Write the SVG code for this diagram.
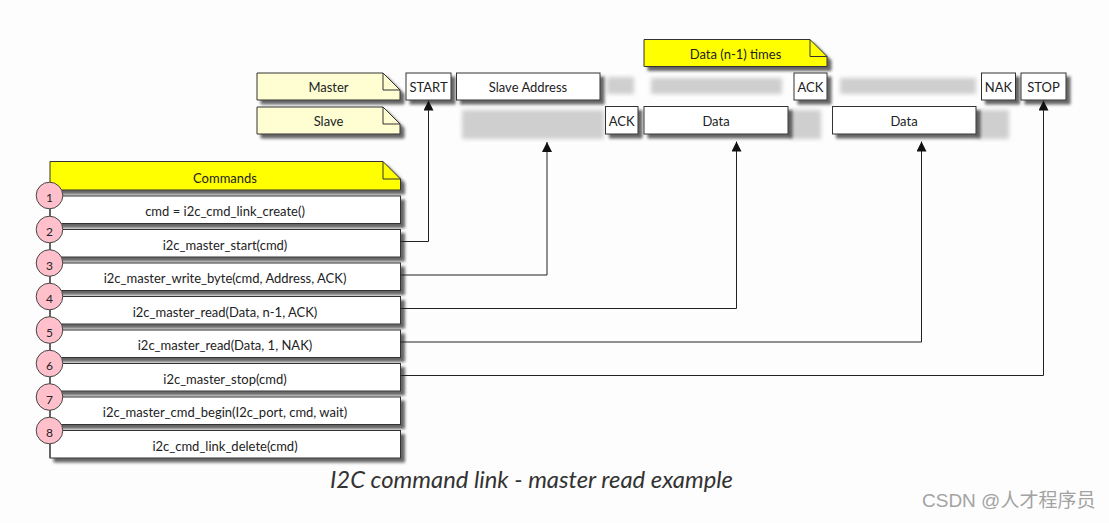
<svg xmlns="http://www.w3.org/2000/svg" width="1109" height="523" viewBox="0 0 1109 523">
<defs>
<filter id="sh" x="-10%" y="-20%" width="130%" height="160%">
<feDropShadow dx="4" dy="4" stdDeviation="1.6" flood-color="#000" flood-opacity="0.6"/>
</filter>
<filter id="blur" x="-20%" y="-40%" width="140%" height="180%">
<feGaussianBlur stdDeviation="2"/>
</filter>
<marker id="arr" viewBox="0 0 10 10" refX="10" refY="5" markerWidth="10" markerHeight="10" markerUnits="userSpaceOnUse" orient="auto">
<path d="M0,0 L10,5 L0,10 z" fill="#111"/>
</marker>
</defs>
<style>
.box{fill:#fff;stroke:#333;stroke-width:1;filter:url(#sh)}
.note{fill:#fefed2;stroke:#333;stroke-width:1;filter:url(#sh)}
.ynote{fill:#ffff00;stroke:#333;stroke-width:1;filter:url(#sh)}
.fold{fill:none;stroke:#333;stroke-width:1}
.ghost{fill:#cfcfcf;filter:url(#blur)}
.t{font-family:Lato,"Open Sans",sans-serif;font-size:13px;fill:#222;text-anchor:middle;dominant-baseline:central}
.n{font-family:Lato,"Open Sans",sans-serif;font-size:12px;fill:#222;text-anchor:middle;dominant-baseline:central}
.num{fill:#ffc0cb;stroke:#444;stroke-width:1}
.conn{fill:none;stroke:#222;stroke-width:1;marker-end:url(#arr)}
</style>
<rect width="1109" height="523" fill="#fdfdfd"/>

<g id="ghosts">
<rect class="ghost" x="607" y="77" width="27" height="17"/>
<rect class="ghost" x="651" y="78" width="131" height="16"/>
<rect class="ghost" x="840" y="78" width="136" height="16"/>
<rect class="ghost" x="462" y="110" width="142" height="29"/>
<rect class="ghost" x="790" y="110" width="31" height="29"/>
<rect class="ghost" x="978" y="110" width="31" height="29"/>
</g>

<g id="note-master">
<path class="note" d="M257,73 H383 L400,90 V100 H257 Z"/>
<path class="fold" d="M383,73 V90 H400"/>
<text class="t" x="328.5" y="87">Master</text>
</g>
<g id="note-slave">
<path class="note" d="M257,107 H383 L400,124 V134 H257 Z"/>
<path class="fold" d="M383,107 V124 H400"/>
<text class="t" x="328.5" y="121">Slave</text>
</g>
<g id="note-data-times">
<path class="ynote" d="M644,39.5 H810 L827,56.5 V66.5 H644 Z"/>
<path class="fold" d="M810,39.5 V56.5 H827"/>
<text class="t" x="735.5" y="53.5">Data (n-1) times</text>
</g>

<g id="start"><rect class="box" x="406" y="73" width="45" height="27"/><text class="t" x="428.5" y="87">START</text></g>
<g id="slave-address"><rect class="box" x="456.5" y="73" width="143.5" height="27"/><text class="t" x="528" y="87">Slave Address</text></g>
<g id="ack-master"><rect class="box" x="794" y="73" width="33" height="27"/><text class="t" x="810.5" y="87">ACK</text></g>
<g id="nak"><rect class="box" x="981.5" y="73" width="34" height="27"/><text class="t" x="998.5" y="87">NAK</text></g>
<g id="stop"><rect class="box" x="1021" y="73" width="45" height="27"/><text class="t" x="1043.5" y="87">STOP</text></g>
<g id="ack-slave"><rect class="box" x="605.5" y="106.5" width="32.5" height="27.5"/><text class="t" x="621.75" y="121">ACK</text></g>
<g id="data1"><rect class="box" x="644" y="106.5" width="144" height="27.5"/><text class="t" x="716" y="121">Data</text></g>
<g id="data2"><rect class="box" x="832.5" y="106.5" width="143.5" height="27.5"/><text class="t" x="904" y="121">Data</text></g>

<g id="note-commands">
<path class="ynote" d="M50,161.5 H383 L400.5,179 V190 H50 Z"/>
<path class="fold" d="M383,161.5 V179 H400.5"/>
<text class="t" x="225" y="178">Commands</text>
</g>

<g id="cmd1"><rect class="box" x="50" y="196" width="350.5" height="27.5"/><text class="t" x="225" y="211">cmd = i2c_cmd_link_create()</text></g>
<g id="cmd2"><rect class="box" x="50" y="229.5" width="350.5" height="27.5"/><text class="t" x="225" y="244.5">i2c_master_start(cmd)</text></g>
<g id="cmd3"><rect class="box" x="50" y="263" width="350.5" height="27.5"/><text class="t" x="225" y="278">i2c_master_write_byte(cmd, Address, ACK)</text></g>
<g id="cmd4"><rect class="box" x="50" y="296.5" width="350.5" height="27.5"/><text class="t" x="225" y="311.5">i2c_master_read(Data, n-1, ACK)</text></g>
<g id="cmd5"><rect class="box" x="50" y="330" width="350.5" height="27.5"/><text class="t" x="225" y="345">i2c_master_read(Data, 1, NAK)</text></g>
<g id="cmd6"><rect class="box" x="50" y="363.5" width="350.5" height="27.5"/><text class="t" x="225" y="378.5">i2c_master_stop(cmd)</text></g>
<g id="cmd7"><rect class="box" x="50" y="397" width="350.5" height="27.5"/><text class="t" x="225" y="412">i2c_master_cmd_begin(I2c_port, cmd, wait)</text></g>
<g id="cmd8"><rect class="box" x="50" y="430.5" width="350.5" height="27.5"/><text class="t" x="225" y="445.5">i2c_cmd_link_delete(cmd)</text></g>

<g id="numbers">
<line x1="50" y1="196" x2="50" y2="458" stroke="#333" stroke-width="1"/>
<circle class="num" cx="49.5" cy="195.5" r="13.3"/><text class="n" x="49.5" y="197.5">1</text>
<circle class="num" cx="49.5" cy="229.5" r="13.3"/><text class="n" x="49.5" y="231.5">2</text>
<circle class="num" cx="49.5" cy="263" r="13.3"/><text class="n" x="49.5" y="265">3</text>
<circle class="num" cx="49.5" cy="296.5" r="13.3"/><text class="n" x="49.5" y="298.5">4</text>
<circle class="num" cx="49.5" cy="330" r="13.3"/><text class="n" x="49.5" y="332">5</text>
<circle class="num" cx="49.5" cy="363.5" r="13.3"/><text class="n" x="49.5" y="365.5">6</text>
<circle class="num" cx="49.5" cy="397" r="13.3"/><text class="n" x="49.5" y="399">7</text>
<circle class="num" cx="49.5" cy="430.5" r="13.3"/><text class="n" x="49.5" y="432.5">8</text>
</g>

<g id="connectors">
<path class="conn" d="M400.5,241.5 H428.5 V100.5"/>
<path class="conn" d="M400.5,275 H547 V142"/>
<path class="conn" d="M400.5,308.5 H736.5 V141.5"/>
<path class="conn" d="M400.5,342 H921.5 V141.5"/>
<path class="conn" d="M400.5,375.5 H1043.5 V100.5"/>
</g>

<text x="531.5" y="488" font-family="Lato, 'Open Sans', sans-serif" font-style="italic" font-size="23.8" fill="#333" text-anchor="middle">I2C command link - master read example</text>
<text x="922" y="507" font-family="'Liberation Sans', 'Noto Sans CJK SC', sans-serif" font-size="19" fill="#a3a3a3">CSDN @人才程序员</text>
</svg>
